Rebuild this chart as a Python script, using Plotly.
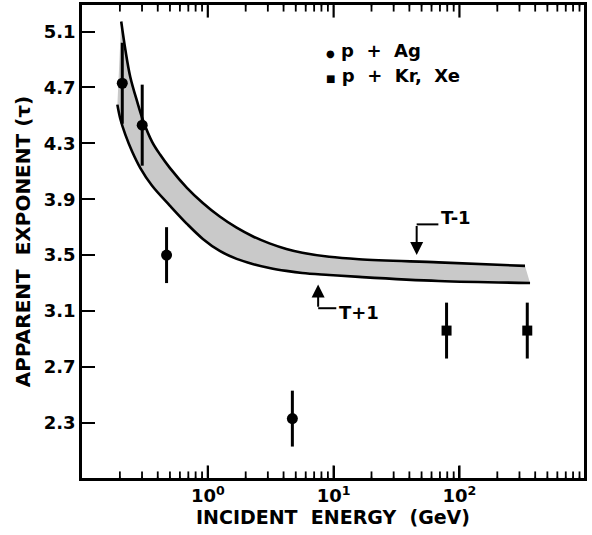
import plotly.graph_objects as go

# ---- data ----
ag_energy = [0.209, 0.301, 0.47, 4.7]
ag_tau = [4.73, 4.43, 3.50, 2.33]
ag_err = [0.29, 0.29, 0.20, 0.20]

krxe_energy = [79, 346]
krxe_tau = [2.96, 2.96]
krxe_err = [0.20, 0.20]

# T-1 (upper) and T+1 (lower) curves bounding the shaded band
upper_energy = [0.205, 0.221, 0.2417, 0.2746, 0.3063, 0.3608, 0.4174, 0.5006, 0.6823, 0.9131,
                1.244, 1.695, 2.268, 3.091, 4.212, 5.636, 9.214, 15.91, 68.2, 332]
upper_tau = [5.172, 4.971, 4.777, 4.598, 4.462, 4.311, 4.220, 4.123, 3.982, 3.873,
             3.776, 3.696, 3.635, 3.584, 3.544, 3.517, 3.488, 3.471, 3.448, 3.423]

lower_energy = [0.191, 0.2015, 0.221, 0.2507, 0.2901, 0.3608, 0.5006, 0.6823, 0.9131,
                1.244, 1.695, 2.268, 3.091, 4.212, 5.636, 9.214, 15.91, 68.2, 364]
lower_tau = [4.577, 4.476, 4.362, 4.240, 4.125, 3.996, 3.853, 3.724, 3.616,
             3.530, 3.473, 3.437, 3.408, 3.387, 3.372, 3.358, 3.344, 3.315, 3.301]

y_ticks = [2.3, 2.7, 3.1, 3.5, 3.9, 4.3, 4.7, 5.1]
x_ticks = [1, 10, 100]
x_ticktext = ["10<sup>0</sup>", "10<sup>1</sup>", "10<sup>2</sup>"]
decades = [0.1, 1, 10, 100]
minor_digits = [2, 3, 4, 5, 6, 7, 8, 9]
x_minor = [d * m for d in decades for m in minor_digits]

FONT = "DejaVu Sans"
X_RANGE = [-1, 2.99]
Y_RANGE = [1.905, 5.29]
PX_PER_TAU = (535 - 5 - 57) / (Y_RANGE[1] - Y_RANGE[0])

fig = go.Figure()

# shaded band (polygon upper -> reversed lower)
fig.add_trace(go.Scatter(
    x=upper_energy + lower_energy[::-1],
    y=upper_tau + lower_tau[::-1],
    mode="none", fill="toself",
    fillcolor="#c9c9c9",
    showlegend=False, hoverinfo="skip"))

fig.add_trace(go.Scatter(x=upper_energy, y=upper_tau, mode="lines",
                         line=dict(color="black", width=2.6, shape="spline", smoothing=1.0),
                         showlegend=False, name="T-1"))
fig.add_trace(go.Scatter(x=lower_energy, y=lower_tau, mode="lines",
                         line=dict(color="black", width=2.6, shape="spline", smoothing=1.0),
                         showlegend=False, name="T+1"))

fig.add_trace(go.Scatter(
    x=ag_energy, y=ag_tau, mode="markers", name="p + Ag",
    marker=dict(symbol="circle", size=11, color="black"),
    error_y=dict(type="data", array=ag_err, color="black", thickness=3, width=0),
    showlegend=False))
fig.add_trace(go.Scatter(
    x=krxe_energy, y=krxe_tau, mode="markers", name="p + Kr, Xe",
    marker=dict(symbol="square", size=10, color="black"),
    error_y=dict(type="data", array=krxe_err, color="black", thickness=3, width=0),
    showlegend=False))

# x-axis tick marks (inside, bottom and top), drawn as one-sided error bars on the log x scale
for vals, length, lw in [(x_ticks, 12, 2.2), (x_minor, 6, 1.8)]:
    n = len(vals)
    dl = length / PX_PER_TAU
    # bottom edge ticks pointing up
    fig.add_trace(go.Scatter(
        x=vals, y=[Y_RANGE[0] + 0.004] * n, mode="markers",
        marker=dict(size=2, color="black"),
        error_y=dict(type="data", symmetric=False, array=[dl] * n, arrayminus=[0] * n,
                     color="black", thickness=lw, width=0),
        showlegend=False, hoverinfo="skip"))
    # top edge ticks pointing down
    fig.add_trace(go.Scatter(
        x=vals, y=[Y_RANGE[1] - 0.004] * n, mode="markers",
        marker=dict(size=2, color="black"),
        error_y=dict(type="data", symmetric=False, array=[0] * n, arrayminus=[dl] * n,
                     color="black", thickness=lw, width=0),
        showlegend=False, hoverinfo="skip"))

# legend as text
fig.add_annotation(x=0.482, y=0.903, xref="paper", yref="paper", xanchor="left", yanchor="middle",
                   text="<span style='font-size:10px'>●</span> p  +  Ag", showarrow=False,
                   font=dict(family=FONT, size=18, color="black", weight="bold"))
fig.add_annotation(x=0.482, y=0.850, xref="paper", yref="paper", xanchor="left", yanchor="middle",
                   text="<span style='font-size:10px'>■</span> p  +  Kr,  Xe", showarrow=False,
                   font=dict(family=FONT, size=18, color="black", weight="bold"))

# T-1 label with elbow arrow
fig.add_annotation(x=1.66, y=3.50, ax=1.66, ay=3.72, xref="x", yref="y", axref="x", ayref="y",
                   text="", showarrow=True, arrowhead=2, arrowsize=1.3, arrowwidth=2, arrowcolor="black")
fig.add_shape(type="line", x0=45.7, x1=68, y0=3.72, y1=3.72, xref="x", yref="y",
              line=dict(color="black", width=2))
fig.add_annotation(x=1.84, y=3.77, xref="x", yref="y", xanchor="left", text="T-1",
                   showarrow=False, font=dict(family=FONT, size=18, color="black", weight="bold"))

# T+1 label with elbow arrow
fig.add_annotation(x=0.877, y=3.29, ax=0.877, ay=3.12, xref="x", yref="y", axref="x", ayref="y",
                   text="", showarrow=True, arrowhead=2, arrowsize=1.3, arrowwidth=2, arrowcolor="black")
fig.add_shape(type="line", x0=7.54, x1=10.5, y0=3.12, y1=3.12, xref="x", yref="y",
              line=dict(color="black", width=2))
fig.add_annotation(x=1.03, y=3.09, xref="x", yref="y", xanchor="left", text="T+1",
                   showarrow=False, font=dict(family=FONT, size=18, color="black", weight="bold"))

fig.update_layout(
    xaxis=dict(
        type="log", range=X_RANGE,
        tickmode="array", tickvals=x_ticks, ticktext=x_ticktext,
        ticks="inside", ticklen=12, tickwidth=2, tickcolor="black",
        showline=True, linewidth=2.5, linecolor="black", mirror=True,
        showgrid=False, zeroline=False, automargin=False,
        tickfont=dict(family=FONT, size=18, color="black", weight="bold"),
        title=dict(text="INCIDENT  ENERGY  (GeV)",
                   font=dict(family=FONT, size=19, color="black", weight="bold"), standoff=6),
    ),
    yaxis=dict(
        range=Y_RANGE,
        tickmode="array", tickvals=y_ticks, ticktext=[f"{v:.1f}" for v in y_ticks],
        ticks="inside", ticklen=13, tickwidth=2, tickcolor="black",
        showline=True, linewidth=2.5, linecolor="black", mirror=True,
        showgrid=False, zeroline=False,
        tickfont=dict(family=FONT, size=18, color="black", weight="bold"),
        title=dict(text="APPARENT  EXPONENT (τ)",
                   font=dict(family=FONT, size=20, color="black", weight="bold"), standoff=8),
    ),
    width=592, height=535,
    margin=dict(l=82, r=6, t=5, b=57),
    paper_bgcolor="white", plot_bgcolor="white",
    showlegend=False,
)

fig.write_html("out.html")
